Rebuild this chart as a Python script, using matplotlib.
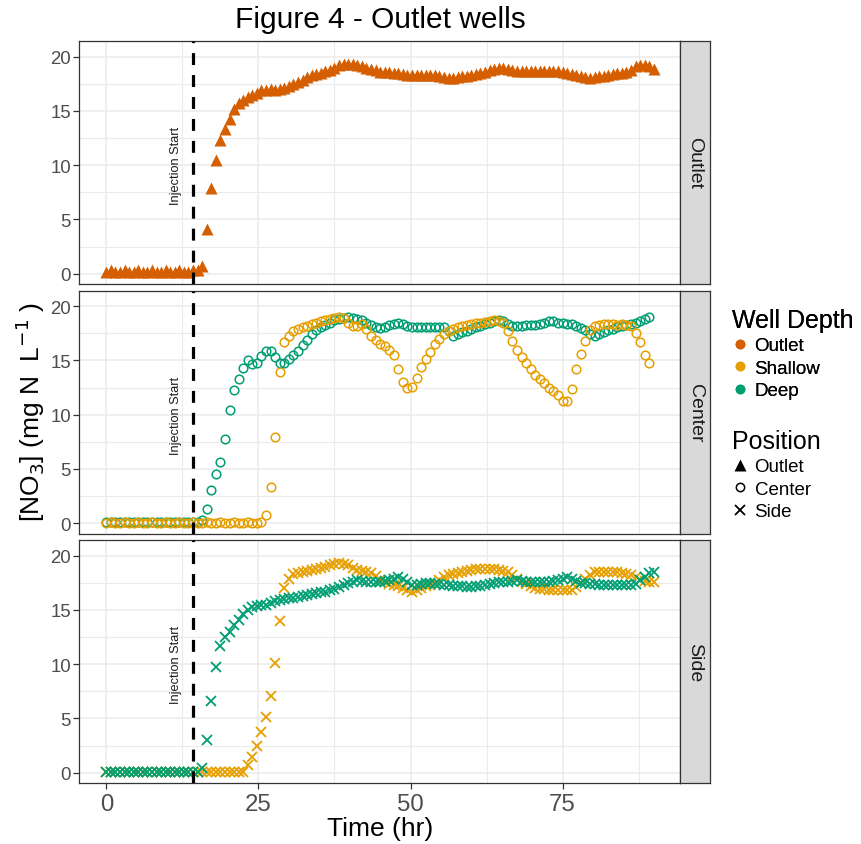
import numpy as np
import matplotlib.pyplot as plt
from matplotlib.lines import Line2D
from matplotlib.ticker import MultipleLocator

plt.rcParams['font.family'] = ['Liberation Sans', 'DejaVu Sans']
plt.rcParams['lines.scale_dashes'] = False

# samples every 45 min
step = 0.75
hours = np.arange(121) * step
injection_hr = 14.25

outlet_outlet = [
    0.2, 0.3, 0.2, 0.2, 0.3, 0.2, 0.2, 0.3, 0.2, 0.2, 0.3, 0.2,
    0.2, 0.3, 0.2, 0.2, 0.3, 0.2, 0.2, 0.3, 0.3, 0.7, 4.1, 7.9,
    10.5, 12.3, 13.3, 14.3, 15.2, 15.7, 16.0, 16.3, 16.5, 16.7, 16.9, 16.9,
    17.0, 16.9, 17.0, 17.1, 17.3, 17.5, 17.7, 17.9, 18.1, 18.3, 18.4, 18.5,
    18.7, 18.8, 19.0, 19.2, 19.35, 19.3, 19.3, 19.2, 19.1, 19.0, 18.9, 18.8,
    18.6, 18.6, 18.6, 18.5, 18.5, 18.4, 18.35, 18.3, 18.3, 18.3, 18.3, 18.3,
    18.3, 18.2, 18.1, 18.0, 18.0, 18.1, 18.2, 18.2, 18.3, 18.4, 18.5, 18.6,
    18.8, 18.9, 19.0, 19.0, 18.9, 18.8, 18.7, 18.7, 18.7, 18.7, 18.7, 18.7,
    18.7, 18.7, 18.7, 18.7, 18.6, 18.5, 18.4, 18.3, 18.2, 18.1, 18.0, 18.1,
    18.2, 18.2, 18.3, 18.4, 18.5, 18.5, 18.6, 18.8, 19.1, 19.2, 19.2, 19.1,
    18.9,
]

center_shallow = [
    0.0, 0.1, 0.0, 0.0, 0.1, 0.0, 0.0, 0.1, 0.0, 0.0, 0.1, 0.0,
    0.0, 0.1, 0.0, 0.0, 0.1, 0.0, 0.0, 0.1, 0.0, 0.0, 0.1, 0.0,
    0.0, 0.1, 0.0, 0.0, 0.1, 0.0, 0.0, 0.1, 0.0, 0.0, 0.1, 0.8,
    3.3, 7.9, 13.9, 16.7, 17.3, 17.7, 17.9, 18.05, 18.2, 18.4, 18.5, 18.6,
    18.7, 18.8, 18.9, 19.0, 18.9, 18.5, 18.2, 18.2, 18.4, 17.9, 17.3, 16.9,
    16.5, 16.3, 16.0, 15.5, 14.2, 13.0, 12.5, 12.6, 13.4, 14.4, 15.1, 15.8,
    16.5, 17.0, 17.4, 17.7, 17.9, 18.05, 18.2, 18.3, 18.4, 18.45, 18.5, 18.55,
    18.6, 18.7, 18.6, 18.5, 17.7, 16.8, 16.0, 15.3, 14.8, 14.2, 13.7, 13.3,
    12.9, 12.5, 12.2, 11.8, 11.3, 11.3, 12.4, 14.2, 15.6, 16.8, 17.8, 18.2,
    18.3, 18.4, 18.4, 18.4, 18.3, 18.4, 18.3, 18.2, 17.5, 16.7, 15.5, 14.8,
]

center_deep = [
    0.1, 0.1, 0.1, 0.1, 0.1, 0.1, 0.1, 0.1, 0.1, 0.1, 0.1, 0.1,
    0.1, 0.1, 0.1, 0.1, 0.1, 0.1, 0.1, 0.1, 0.1, 0.3, 1.3, 3.1,
    4.5, 5.6, 7.8, 10.4, 12.3, 13.3, 14.3, 15.0, 14.7, 14.8, 15.4, 15.9,
    15.9, 15.3, 14.8, 14.8, 15.1, 15.5, 15.9, 16.4, 16.9, 17.4, 17.8, 18.1,
    18.3, 18.5, 18.7, 18.8, 18.9, 19.0, 18.9, 18.85, 18.7, 18.5, 18.3, 18.1,
    18.0, 18.1, 18.3, 18.4, 18.5, 18.4, 18.2, 18.1, 18.05, 18.05, 18.1, 18.05,
    18.05, 18.1, 18.05, 17.7, 17.3, 17.4, 17.6, 17.75, 17.9, 18.05, 18.2, 18.4,
    18.5, 18.6, 18.7, 18.6, 18.4, 18.2, 18.2, 18.2, 18.3, 18.3, 18.3, 18.4,
    18.5, 18.6, 18.6, 18.5, 18.5, 18.4, 18.4, 18.2, 18.0, 17.8, 17.4, 17.3,
    17.4, 17.6, 17.8, 17.9, 18.1, 18.2, 18.3, 18.4, 18.5, 18.6, 18.8, 19.0,
]

side_shallow = [
    0.1, 0.1, 0.1, 0.1, 0.1, 0.1, 0.1, 0.1, 0.1, 0.1, 0.1, 0.1,
    0.1, 0.1, 0.1, 0.1, 0.1, 0.1, 0.1, 0.1, 0.1, 0.1, 0.1, 0.1,
    0.1, 0.1, 0.1, 0.1, 0.1, 0.1, 0.1, 0.7, 1.45, 2.5, 3.75, 5.1,
    7.1, 10.1, 14.0, 17.0, 17.9, 18.3, 18.4, 18.5, 18.6, 18.7, 18.8, 18.9,
    19.0, 19.1, 19.2, 19.3, 19.2, 19.1, 18.9, 18.7, 18.6, 18.5, 18.4, 18.1,
    17.8, 17.6, 17.4, 17.3, 17.2, 17.0, 16.8, 16.7, 16.8, 17.0, 17.2, 17.3,
    17.5, 17.8, 18.0, 18.2, 18.3, 18.4, 18.5, 18.6, 18.7, 18.8, 18.8, 18.8,
    18.8, 18.8, 18.7, 18.6, 18.5, 18.2, 17.9, 17.6, 17.4, 17.2, 17.0, 16.9,
    16.9, 16.8, 16.8, 16.8, 16.8, 16.8, 16.8, 17.1, 17.5, 17.9, 18.2, 18.5,
    18.5, 18.5, 18.5, 18.5, 18.5, 18.4, 18.3, 18.2, 18.0, 17.8, 17.7, 17.6,
    17.6,
]

side_deep = [
    0.1, 0.1, 0.1, 0.1, 0.1, 0.1, 0.1, 0.1, 0.1, 0.1, 0.1, 0.1,
    0.1, 0.1, 0.1, 0.1, 0.1, 0.1, 0.1, 0.1, 0.1, 0.4, 3.0, 6.6,
    9.7, 11.7, 12.5, 13.0, 13.6, 14.1, 14.6, 15.0, 15.3, 15.4, 15.45, 15.5,
    15.6, 15.8, 15.9, 16.0, 16.1, 16.1, 16.2, 16.3, 16.4, 16.5, 16.6, 16.7,
    16.7, 16.8, 16.9, 17.1, 17.3, 17.5, 17.6, 17.75, 17.7, 17.6, 17.6, 17.6,
    17.6, 17.7, 17.8, 17.9, 18.0, 17.9, 17.6, 17.3, 17.3, 17.4, 17.45, 17.45,
    17.4, 17.35, 17.3, 17.3, 17.25, 17.2, 17.2, 17.15, 17.15, 17.2, 17.2, 17.3,
    17.4, 17.5, 17.6, 17.6, 17.6, 17.7, 17.75, 17.7, 17.6, 17.6, 17.6, 17.6,
    17.6, 17.6, 17.7, 17.8, 17.9, 18.0, 17.9, 17.7, 17.5, 17.45, 17.4, 17.35,
    17.3, 17.3, 17.3, 17.3, 17.3, 17.3, 17.3, 17.3, 17.4, 17.8, 18.05, 18.4,
    18.5,
]

depth_colors = {'Outlet': '#D55E00', 'Shallow': '#E69F00', 'Deep': '#009E73'}
position_markers = {'Outlet': '^', 'Center': 'o', 'Side': 'x'}

panels = [
    ('Outlet', [('Outlet', outlet_outlet)]),
    ('Center', [('Deep', center_deep), ('Shallow', center_shallow)]),
    ('Side', [('Shallow', side_shallow), ('Deep', side_deep)]),
]


def draw_points(ax, position, depth, values):
    t = hours[:len(values)]
    color = depth_colors[depth]
    if position == 'Outlet':
        ax.plot(t, values, ls='none', marker='^', ms=9, color=color, mec='none')
    elif position == 'Center':
        ax.plot(t, values, ls='none', marker='o', ms=6.2, mfc='none', mec=color, mew=1.1)
    else:
        ax.plot(t, values, ls='none', marker='x', ms=7.5, color=color, mew=1.3)


W, H = 861, 845
fig = plt.figure(figsize=(W / 100, H / 100), dpi=100)

left, right = 79.3, 680
panel_tops = [42, 291.5, 541]
panel_h = 243

axes = []
for i, (position, series) in enumerate(panels):
    top = panel_tops[i]
    ax = fig.add_axes([left / W, 1 - (top + panel_h) / H, (right - left) / W, panel_h / H])
    axes.append(ax)

    ax.xaxis.set_major_locator(MultipleLocator(25))
    ax.xaxis.set_minor_locator(MultipleLocator(12.5))
    ax.yaxis.set_major_locator(MultipleLocator(5))
    ax.yaxis.set_minor_locator(MultipleLocator(2.5))
    ax.grid(which='major', color='#EBEBEB', lw=1.1, zorder=0)
    ax.grid(which='minor', color='#EBEBEB', lw=0.8, zorder=0)
    ax.set_axisbelow(True)
    ax.set_xlim(-4.45, 94.3)
    ax.set_ylim(-0.95, 21.45)
    for s in ax.spines.values():
        s.set_color('#333333')
        s.set_linewidth(0.9)
    ax.tick_params(which='minor', length=0)
    ax.tick_params(which='major', length=4, width=0.9, color='#333333')
    ax.tick_params(axis='y', labelsize=13.4, labelcolor='#4D4D4D', pad=2)
    ax.tick_params(axis='x', labelsize=17.3, labelcolor='#4D4D4D', pad=3)
    if i < 2:
        ax.tick_params(axis='x', length=0, labelbottom=False)

    for depth, values in series:
        draw_points(ax, position, depth, values)

    ax.axvline(injection_hr, color='black', lw=2.3, dashes=(8.6, 7.2), zorder=3)
    ax.text(11.5, 10, 'Injection Start', rotation=90, ha='center', va='center',
            fontsize=9.2, color='#1A1A1A')

    # facet strip on the right
    sax = fig.add_axes([right / W, 1 - (top + panel_h) / H, 30 / W, panel_h / H])
    sax.set_facecolor('#D9D9D9')
    sax.set_xticks([])
    sax.set_yticks([])
    for s in sax.spines.values():
        s.set_color('#333333')
        s.set_linewidth(0.9)
    sax.text(0.5, 0.5, position, rotation=270, ha='center', va='center',
             fontsize=14, color='#1A1A1A', transform=sax.transAxes)

fig.text(380 / W, 1 - 20 / H, 'Figure 4 - Outlet wells', ha='center', va='center', fontsize=21.5)
fig.text(380 / W, 1 - 829 / H, 'Time (hr)', ha='center', va='center', fontsize=19)
fig.text(30 / W, 1 - 412 / H, r'[NO$_3$] (mg N  L$^{-1}$ )', rotation=90,
         ha='center', va='center', fontsize=19)

legend_style = dict(loc='upper left', frameon=False, fontsize=13.5, title_fontsize=18,
                    handlelength=0.9, handletextpad=0.3, labelspacing=0.28,
                    borderpad=0, borderaxespad=0, alignment='left')

depth_handles = [Line2D([], [], ls='none', marker='o', ms=7, color=c, mec='none')
                 for c in depth_colors.values()]
leg1 = fig.legend(depth_handles, list(depth_colors.keys()), title='Well Depth',
                  bbox_to_anchor=(732 / W, 1 - 309 / H), **legend_style)
fig.add_artist(leg1)

position_handles = [
    Line2D([], [], ls='none', marker='^', ms=8, color='black', mec='none'),
    Line2D([], [], ls='none', marker='o', ms=6, mfc='none', mec='black', mew=1.1),
    Line2D([], [], ls='none', marker='x', ms=7, color='black', mew=1.3),
]
fig.legend(position_handles, list(position_markers.keys()), title='Position',
           bbox_to_anchor=(732 / W, 1 - 430 / H), **legend_style)

fig.savefig('out.png', dpi=100)
